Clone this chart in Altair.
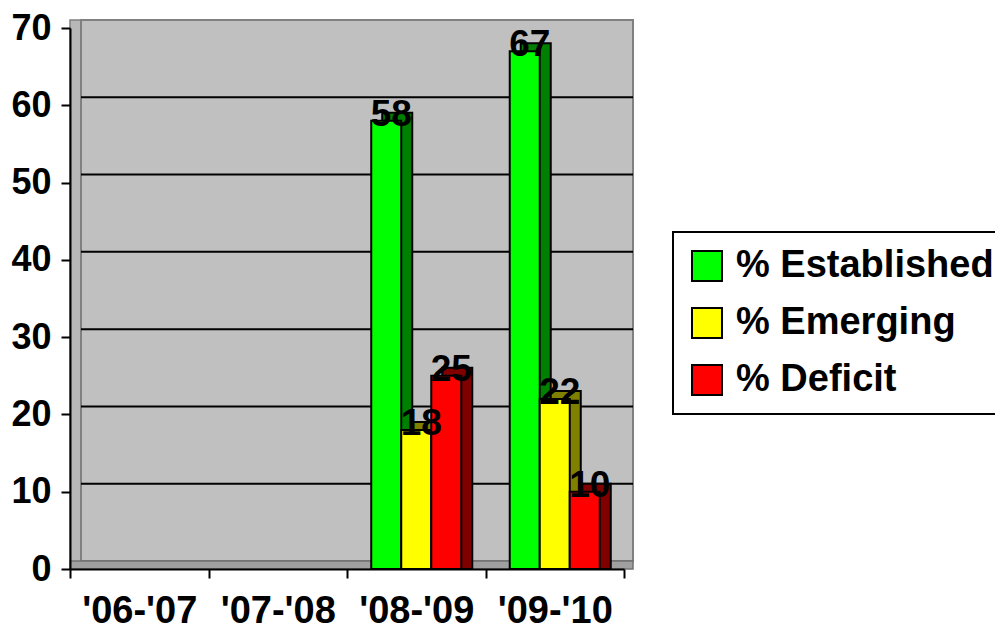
import altair as alt
import pandas as pd

categories = ["'06-'07", "'07-'08", "'08-'09", "'09-'10"]
series = ["% Established", "% Emerging", "% Deficit"]
established = [None, None, 58, 67]
emerging = [None, None, 18, 22]
deficit = [None, None, 25, 10]
front_colors = ["#00FF00", "#FFFF00", "#FF0000"]
side_colors = ["#008000", "#808000", "#800000"]
grid_values = [10, 20, 30, 40, 50, 60]
y_ticks = [0, 10, 20, 30, 40, 50, 60, 70]
wall_top = [70]
wall_bottom = [0]

rows = []
for s, vals in zip(series, [established, emerging, deficit]):
    for c, v in zip(categories, vals):
        if v is not None:
            rows.append({"cat": c, "series": s, "value": v})
df = pd.DataFrame(rows)
grid_df = pd.DataFrame({"v": grid_values})
wall_df = pd.DataFrame({"top": wall_top, "bottom": wall_bottom})

W, H = 554, 541
GROUP_FRAC = 0.65          # share of each category step taken by the bar group
step = W / len(categories)
bw = step * GROUP_FRAC
g0 = (step - bw) / 2
DX, DY = 11, -8
FONT = "Liberation Sans"

xscale = alt.Scale(domain=categories, paddingInner=0, paddingOuter=0)
yscale = alt.Scale(domain=[0, 70], nice=False)

x_axis = alt.Axis(labelAngle=0, tickBand="extent", labelFont=FONT, labelFontSize=38,
                  labelFontWeight="bold", labelColor="black", domainColor="black",
                  domainWidth=2, tickColor="black", tickWidth=2, tickSize=9,
                  labelPadding=14, grid=False, zindex=1)
y_axis = alt.Axis(values=y_ticks, labelFont=FONT, labelFontSize=36, labelFontWeight="bold",
                  labelColor="black", domainColor="black", domainWidth=2, tickColor="black",
                  tickWidth=2, tickSize=9, labelPadding=10, grid=False, zindex=1)

x_enc = alt.X("cat:N", scale=xscale, sort=categories, axis=x_axis, title=None)
y_enc = alt.Y("value:Q", scale=yscale, stack=None, axis=y_axis, title=None)

left_wall = alt.Chart(wall_df).mark_rect(fill="#B8B8B8", stroke="#808080", strokeWidth=1.5,
                                         yOffset=DY).encode(
    x=alt.value(0), x2=alt.value(DX),
    y=alt.Y("top:Q", scale=yscale, axis=y_axis, title=None), y2=alt.Y2("bottom:Q"))

wall = alt.Chart(wall_df).mark_rect(fill="#C0C0C0", stroke="#808080", strokeWidth=2,
                                    yOffset=DY, y2Offset=DY).encode(
    x=alt.value(DX), x2=alt.value(W + 9),
    y=alt.Y("top:Q", scale=yscale, axis=y_axis, title=None), y2=alt.Y2("bottom:Q"))

floor = alt.Chart(wall_df).mark_rect(fill="#A0A0A0", stroke="#707070", strokeWidth=1.5,
                                     yOffset=DY).encode(
    x=alt.value(0), x2=alt.value(W + 9),
    y=alt.Y("bottom:Q", scale=yscale, axis=y_axis, title=None), y2=alt.Y2("bottom:Q"))

grid = alt.Chart(grid_df).mark_rule(color="black", strokeWidth=2, yOffset=DY).encode(
    y=alt.Y("v:Q", scale=yscale, axis=y_axis, title=None),
    x=alt.value(DX), x2=alt.value(W + 9))

back = alt.Chart(df).mark_bar(yOffset=DY, y2Offset=DY, stroke="black", strokeWidth=2).encode(
    x=x_enc,
    xOffset=alt.XOffset("series:N", sort=series,
                        scale=alt.Scale(domain=series, range=[g0 + DX, g0 + bw + DX],
                                        paddingInner=0, paddingOuter=0)),
    y=y_enc,
    color=alt.Color("series:N", scale=alt.Scale(domain=series, range=side_colors), legend=None),
)

front = alt.Chart(df).mark_bar(stroke="black", strokeWidth=2).encode(
    x=x_enc,
    xOffset=alt.XOffset("series:N", sort=series,
                        scale=alt.Scale(domain=series, range=[g0, g0 + bw],
                                        paddingInner=0, paddingOuter=0)),
    y=y_enc,
    color=alt.Color("series:N", sort=series,
                    scale=alt.Scale(domain=series, range=front_colors),
                    legend=alt.Legend(title=None, orient="none", legendX=603, legendY=204,
                                      symbolType="square", symbolSize=900,
                                      symbolStrokeColor="black", symbolStrokeWidth=2,
                                      labelFont=FONT, labelFontSize=38, labelFontWeight="bold",
                                      labelColor="black", labelOffset=10, labelLimit=500,
                                      rowPadding=19, padding=15, strokeColor="black",
                                      fillColor="white")),
)

labels = alt.Chart(df).mark_text(font=FONT, fontSize=37, fontWeight="bold", color="black",
                                 baseline="alphabetic", dx=5, dy=5).encode(
    x=x_enc,
    xOffset=alt.XOffset("series:N", sort=series,
                        scale=alt.Scale(type="point", domain=series, range=[g0, g0 + bw],
                                        padding=0.5)),
    y=y_enc,
    text=alt.Text("value:Q"),
)

chart = alt.layer(left_wall, wall, floor, grid, back, front, labels).resolve_scale(
    color="independent", xOffset="independent"
).properties(
    width=W, height=H,
    padding={"left": 62, "top": 20, "right": 371, "bottom": 62},
    autosize=alt.AutoSizeParams(type="none"),
    background="white",
).configure_view(strokeWidth=0).configure_legend(strokeWidth=2)

chart.save("out.html", embed_options={"renderer": "svg", "actions": False})
